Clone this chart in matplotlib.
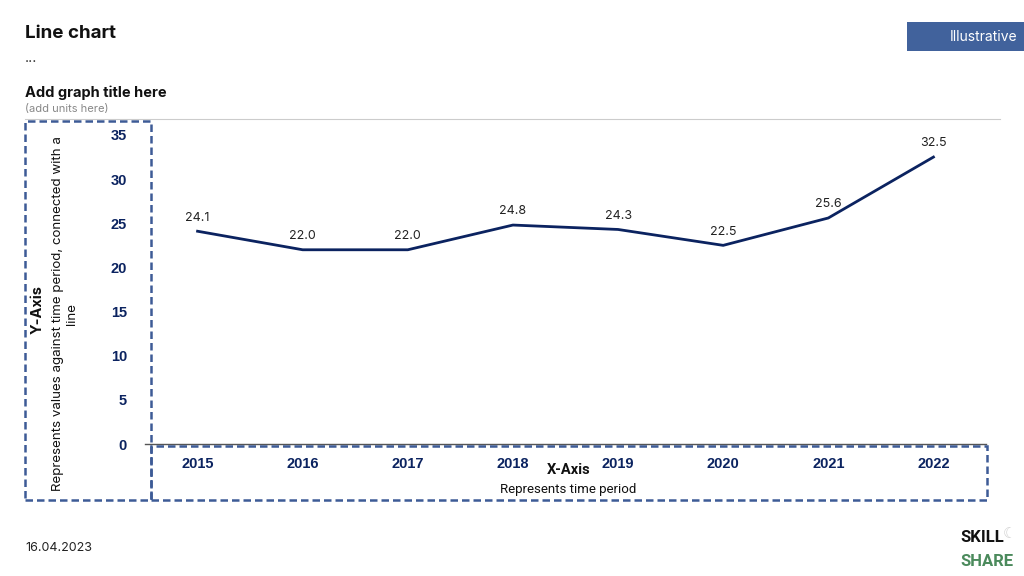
import matplotlib
matplotlib.use("Agg")
import matplotlib.pyplot as plt
from matplotlib.patches import Rectangle

years = ["2015", "2016", "2017", "2018", "2019", "2020", "2021", "2022"]
values = [24.1, 22.0, 22.0, 24.8, 24.3, 22.5, 25.6, 32.5]
y_ticks = [0, 5, 10, 15, 20, 25, 30, 35]

NAVY = "#0b2360"
BOX = "#3d5b96"
plt.rcParams["font.family"] = ["Inter", "DejaVu Sans"]

fig = plt.figure(figsize=(10.24, 5.76), dpi=100)
W, H = 1024, 576


def fx(px):
    return px / W


def fy(py):
    return 1 - py / H


ax = fig.add_axes([fx(145), fy(444), fx(986) - fx(145), fy(135) - fy(444)])
x = list(range(len(years)))
ax.plot(x, values, color=NAVY, linewidth=2, solid_joinstyle="round")
for xi, v in zip(x, values):
    ax.annotate(f"{v:.1f}", (xi, v), xytext=(0, 5.5), textcoords="offset points",
                ha="center", va="bottom", fontsize=9, color="#222222", clip_on=False)

ax.set_xlim(-0.5, len(years) - 0.5)
ax.set_ylim(0, 35)
ax.set_xticks(x)
ax.set_xticklabels(years)
ax.set_yticks(y_ticks)
for lab in ax.get_xticklabels() + ax.get_yticklabels():
    lab.set_fontweight("bold")
    lab.set_color(NAVY)
    lab.set_fontsize(10.5)
    lab.set_family(["Liberation Sans", "DejaVu Sans"])
ax.tick_params(axis="x", length=0, pad=9)
ax.tick_params(axis="y", length=0, pad=13)
for s in ["top", "right", "left"]:
    ax.spines[s].set_visible(False)
ax.spines["bottom"].set_color("#555555")
ax.spines["bottom"].set_linewidth(1)

# header texts
fig.text(fx(25), fy(34), "Line chart", fontsize=13.5, fontweight="bold", va="center", color="#111111")
fig.text(fx(25), fy(58), "...", fontsize=10, va="center", color="#333333")
fig.text(fx(25), fy(93), "Add graph title here", fontsize=10.5, fontweight="bold", va="center", color="#111111")
fig.text(fx(25), fy(109), "(add units here)", fontsize=8, va="center", color="#888888")
fig.add_artist(plt.Line2D([fx(25), fx(1000)], [fy(119), fy(119)], color="#cccccc", linewidth=0.8))

# illustrative tag
fig.add_artist(Rectangle((fx(907), fy(51)), fx(1024) - fx(907), fy(22) - fy(51),
                         facecolor="#41629c", edgecolor="none"))
fig.text(fx(1017), fy(37), "Illustrative", fontsize=10, color="white", ha="right", va="center")

# dashed boxes
fig.add_artist(Rectangle((fx(25), fy(500)), fx(151) - fx(25), fy(121) - fy(500),
                         facecolor="none", edgecolor=BOX, linewidth=1.8, linestyle=(0, (3, 1.6))))
fig.add_artist(Rectangle((fx(151), fy(500)), fx(987) - fx(151), fy(446) - fy(500),
                         facecolor="none", edgecolor=BOX, linewidth=1.8, linestyle=(0, (3, 1.6))))

# axis titles
fig.text(fx(38), fy(310), "Y-Axis", rotation=90, fontsize=10.5, fontweight="bold",
         ha="center", va="center", color="#111111")
fig.text(fx(65), fy(314), "Represents values against time period, connected with a\nline",
         rotation=90, fontsize=9.6, ha="center", va="center", color="#111111", linespacing=1.15)
fig.text(fx(569), fy(470), "X-Axis", fontsize=10.5, fontweight="bold", ha="center", va="center",
         color="#111111", family=["Roboto", "DejaVu Sans"])
fig.text(fx(568), fy(489), "Represents time period", fontsize=9.5, ha="center", va="center",
         color="#111111", family=["Roboto", "DejaVu Sans"])

# footer
fig.text(fx(25), fy(548), "16.04.2023", fontsize=9, va="center", color="#222222")
fig.text(fx(960), fy(538), "SKILL", fontsize=12, fontweight="bold", va="center", color="#111111",
         family=["Roboto", "DejaVu Sans"])
fig.text(fx(960), fy(562), "SHARE", fontsize=12, fontweight="bold", va="center", color="#4b8a5c",
         family=["Roboto", "DejaVu Sans"])
fig.text(fx(1003), fy(533), "\u263e", fontsize=11, va="center", color="#d0d0d0", family=["DejaVu Sans"])

fig.savefig("out.png", dpi=100)
